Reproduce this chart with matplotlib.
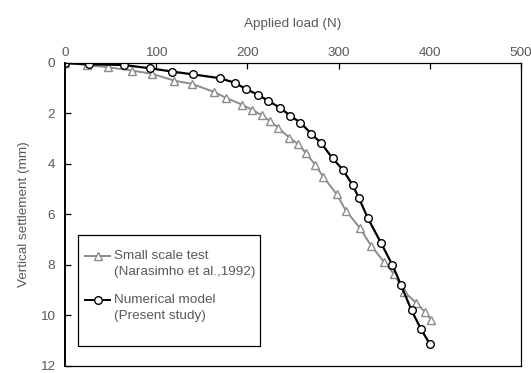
import matplotlib
matplotlib.use("Agg")
import matplotlib.pyplot as plt
from matplotlib.lines import Line2D
from matplotlib.patches import Rectangle

plt.rcParams['font.family'] = ['Liberation Sans', 'DejaVu Sans']

# --------------------------------------------------------
# Load-settlement data
# --------------------------------------------------------
test_load = [0, 24, 47.5, 73.5, 95.5, 120, 139.5, 163, 176, 194, 205, 216,
             225, 234, 246, 256, 264, 274.5, 283, 298, 308, 323.5, 335.5,
             350, 361, 372, 385, 395, 401.5]
test_settlement = [0, 0.08, 0.17, 0.30, 0.43, 0.70, 0.83, 1.14, 1.37, 1.65,
                   1.85, 2.07, 2.31, 2.57, 2.96, 3.22, 3.56, 4.04, 4.50, 5.20,
                   5.85, 6.54, 7.23, 7.89, 8.37, 9.07, 9.49, 9.88, 10.18]

model_load = [0, 26, 64.5, 93.5, 117.5, 140, 169.5, 186, 198, 212, 223, 236,
              247, 258, 270, 281, 293.5, 304.5, 315.5, 322, 332, 346.5, 359,
              368.5, 380, 390.5, 400]
model_settlement = [0, 0.05, 0.08, 0.21, 0.34, 0.45, 0.60, 0.78, 1.02, 1.27,
                    1.50, 1.78, 2.09, 2.36, 2.80, 3.18, 3.78, 4.22, 4.84, 5.33,
                    6.14, 7.13, 8.00, 8.80, 9.80, 10.55, 11.13]

x_ticks = [0, 100, 200, 300, 400, 500]
y_ticks = [0, 2, 4, 6, 8, 10, 12]

text_grey = '#595959'
test_grey = '#8c8c8c'
fs = 9.7

fig = plt.figure(figsize=(5.31, 3.73), dpi=100)
ax = fig.add_axes([0.1224, 0.0188, 0.8588, 0.8123])

# test curve first so the model curve sits on top
ax.plot(test_load, test_settlement, color=test_grey, lw=1.4,
        marker='^', ms=6, mfc='white', mec=test_grey, mew=1.0)
ax.plot(model_load, model_settlement, color='black', lw=1.6,
        marker='o', ms=5.5, mfc='white', mec='black', mew=1.0)

ax.set_xlim(0, 500)
ax.set_ylim(12, 0)
ax.set_xticks(x_ticks)
ax.set_yticks(y_ticks)

ax.xaxis.tick_top()
ax.xaxis.set_label_position('top')
ax.tick_params(axis='both', direction='in', length=4, width=0.9,
               labelsize=fs, labelcolor=text_grey)
ax.tick_params(axis='y', pad=7)
ax.tick_params(axis='x', pad=3)

ax.set_xlabel("Applied load (N)", fontsize=fs, color=text_grey, labelpad=14)
ax.set_ylabel("Vertical settlement (mm)", fontsize=fs, color=text_grey,
              labelpad=7)

for side in ['top', 'right', 'bottom']:
    ax.spines[side].set_linewidth(0.9)
    ax.spines[side].set_color('black')
ax.spines['left'].set_linewidth(1.4)

# --------------------------------------------------------
# Legend box with two-line entries
# --------------------------------------------------------
ax.add_patch(Rectangle((0.0285, 0.066), 0.399, 0.367, transform=ax.transAxes,
                       facecolor='white', edgecolor='black', lw=0.9, zorder=5))

entries = [
    (0.362, test_grey, '^', 6, "Small scale test", "(Narasimho et al.,1992)"),
    (0.219, 'black', 'o', 5.5, "Numerical model", "(Present study)"),
]
for y, col, mk, ms, line1, line2 in entries:
    ax.add_line(Line2D([0.044, 0.099], [y, y], transform=ax.transAxes,
                       color=col, lw=1.4, zorder=6))
    ax.add_line(Line2D([0.0715], [y], transform=ax.transAxes, marker=mk,
                       ms=ms, mfc='white', mec=col, mew=1.0, ls='none',
                       zorder=7))
    ax.text(0.107, y, line1, transform=ax.transAxes, fontsize=fs,
            color=text_grey, va='center', ha='left', zorder=7)
    ax.text(0.107, y - 0.053, line2, transform=ax.transAxes, fontsize=fs,
            color=text_grey, va='center', ha='left', zorder=7)

plt.savefig("out.png", dpi=100)
